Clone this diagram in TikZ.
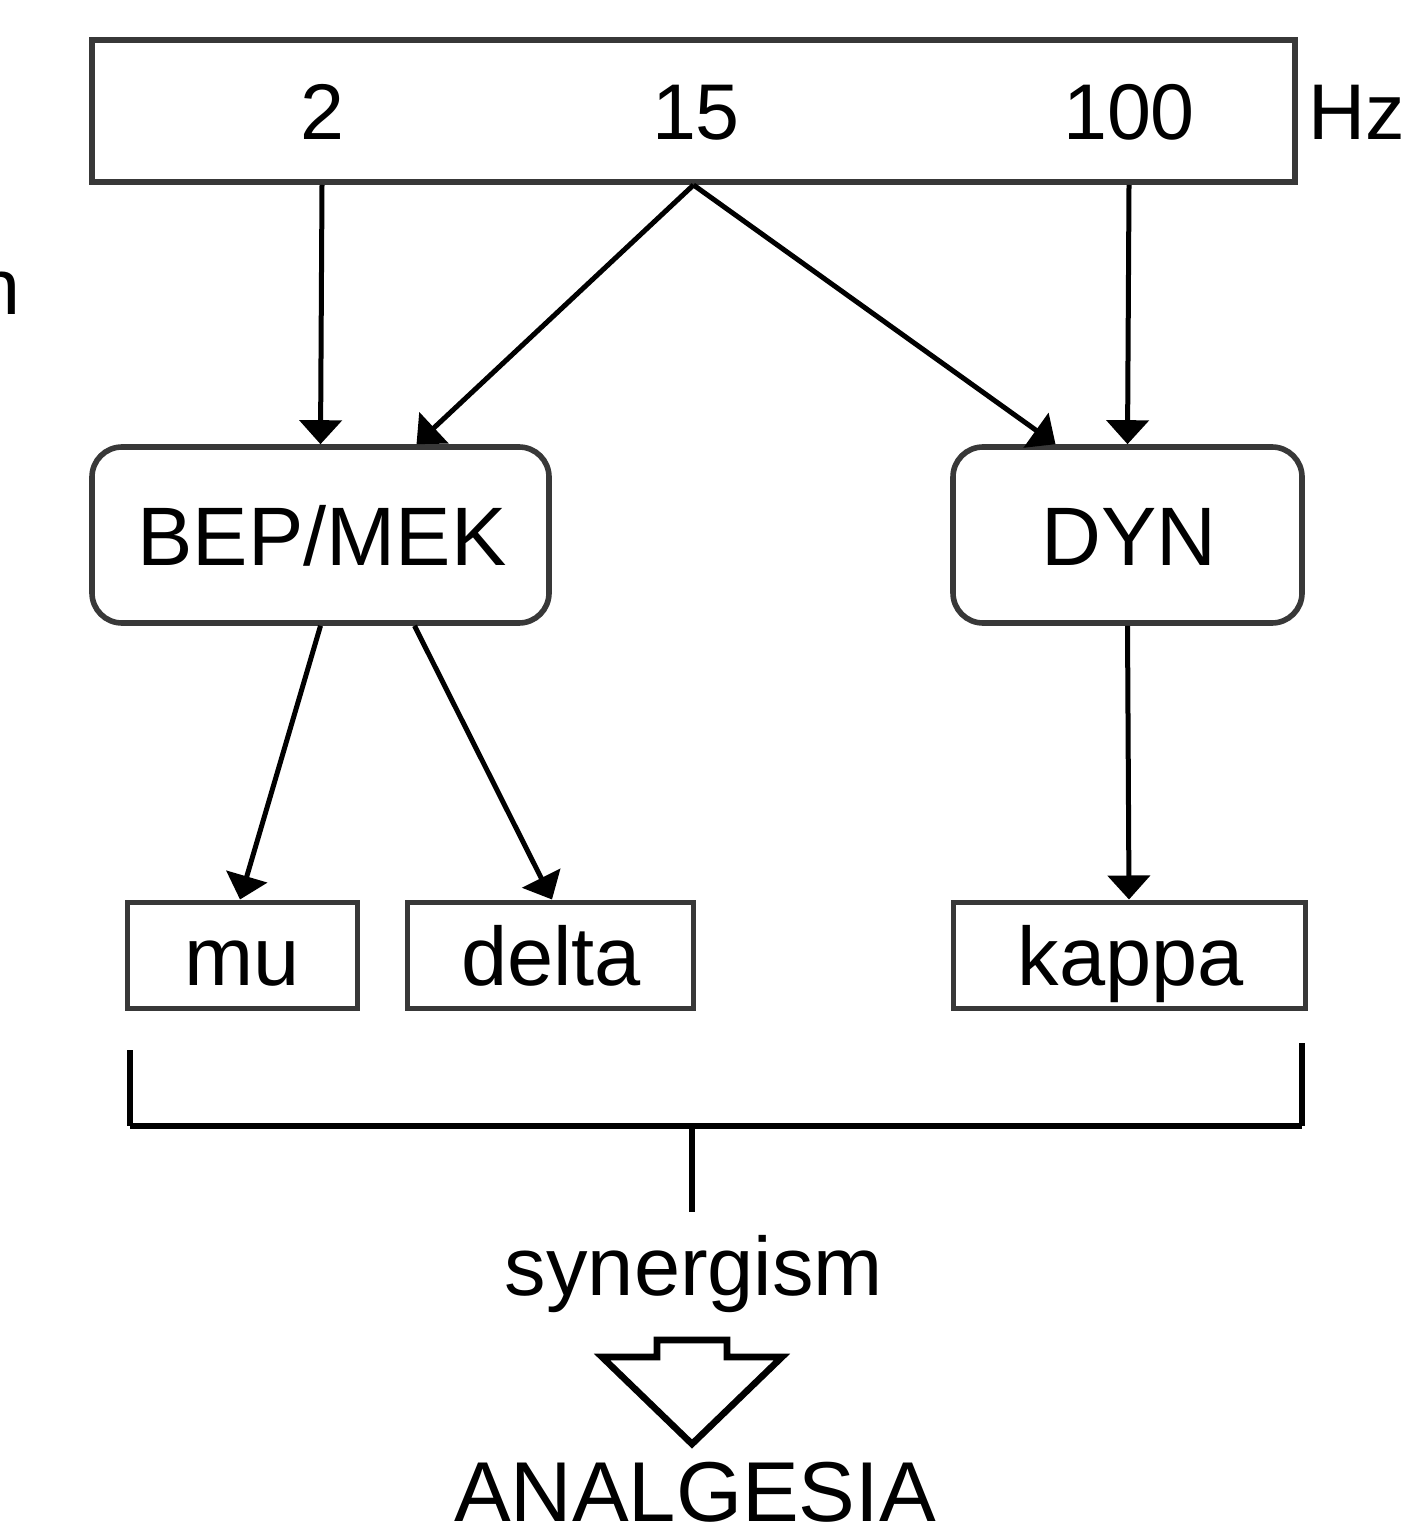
\documentclass[tikz,border=0pt]{standalone}
\usepackage{fontspec}
\setmainfont{Liberation Sans}
\usetikzlibrary{arrows.meta,calc}
\begin{document}
\begin{tikzpicture}[x=0.5pt,y=-0.5pt,
  boxline/.style={draw=black!78,line width=2.8pt},
  arr/.style={draw=black,line width=2.5pt,-{Triangle[width=21pt,length=12pt]}},
  toptxt/.style={inner sep=0pt,anchor=base,font=\fontsize{39.5pt}{44pt}\selectfont},
  bigtxt/.style={inner sep=0pt,anchor=base,font=\fontsize{41.5pt}{46pt}\selectfont},
  lbl/.style={boxline,inner sep=0pt}]
\useasboundingbox (0,0) rectangle (1422,1529);
% top frequency box
\node[lbl,line width=3pt,minimum width=601.5pt,minimum height=71pt] (top) at (693.5,111) {};
\node[toptxt] (n2) at (322,140) {2};
\node[toptxt] (n15) at (696,140) {15};
\node[toptxt] (n100) at (1129,140) {100};
\node[toptxt] (hz) at (1357,140) {Hz};
\node[toptxt,anchor=base west] (frag) at (-24,315) {n};
% peptide boxes
\node[lbl,rounded corners=15pt,minimum width=228.5pt,minimum height=88pt] (bep) at (320.5,535) {};
\node[bigtxt] at (322,565) {BEP/MEK};
\node[lbl,rounded corners=15pt,minimum width=174.5pt,minimum height=88pt] (dyn) at (1127.5,535) {};
\node[bigtxt] at (1129,565) {DYN};
% receptor boxes
\node[lbl,line width=2.5pt,minimum width=115pt,minimum height=53pt] (mu) at (242,955) {};
\node[bigtxt] at (242,985) {mu};
\node[lbl,line width=2.5pt,minimum width=143pt,minimum height=53pt] (delta) at (550,955) {};
\node[bigtxt] at (551,985) {delta};
\node[lbl,line width=2.5pt,minimum width=176pt,minimum height=53pt] (kappa) at (1129,955) {};
\node[bigtxt] at (1131,985) {kappa};
% arrows
\draw[arr] (top.south -| n2) -- (bep.north);
\draw[arr] (top.south) -- ([xshift=48pt]bep.north);
\draw[arr] (top.south) -- ([xshift=-36pt]dyn.north);
\draw[arr] (top.south -| n100) -- (dyn.north);
\draw[arr] (bep.south) -- ([xshift=-1pt]mu.north);
\draw[arr] ([xshift=47pt]bep.south) -- ([xshift=1pt]delta.north);
\draw[arr] (dyn.south) -- (kappa.north);
% bracket
\coordinate (bl) at (130,1050);
\coordinate (br) at (1302,1043);
\coordinate (bm) at (692,1126);
\coordinate (be) at (692,1212);
\draw[line width=2.8pt] (bl) -- (bl |- bm);
\draw[line width=2.8pt] (br) -- (br |- bm);
\draw[line width=3.2pt] (bl |- bm) -- (br |- bm);
\draw[line width=2.8pt] (bm) -- (be);
% synergism
\node[bigtxt] (syn) at (694,1295) {synergism};
% hollow arrow
\draw[line width=3.3pt,line join=miter] (657,1340) -- (727,1340) -- (727,1357) -- (782,1357) -- (692,1444) -- (602,1357) -- (657,1357) -- cycle;
\node[bigtxt,font=\fontsize{42.5pt}{46pt}\selectfont] (ana) at (695,1521) {ANALGESIA};
\end{tikzpicture}
\end{document}
